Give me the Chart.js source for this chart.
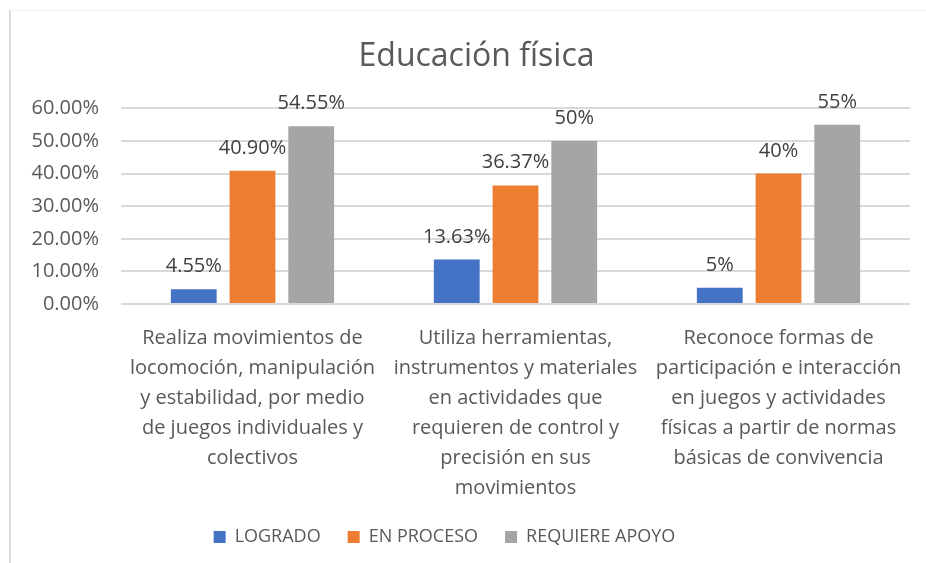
<!DOCTYPE html>
<html>
<head>
<meta charset="utf-8">
<script src="https://cdn.jsdelivr.net/npm/chart.js@4"></script>
<style>
    body { margin: 0; background: #fff; }
    #wrap {
        position: absolute; left: 9px; top: 10px;
        width: 915px; height: 553px;
        border-left: 2px solid #dcdcdc;
        border-top: 1px solid #f0f0f0;
    }
</style>
</head>
<body>
<div id="wrap"><canvas id="chart" width="915" height="553"></canvas></div>
<script>
// categorías (eje x, en varias líneas)
const categorias = [
    ['Realiza movimientos de', 'locomoción, manipulación', 'y estabilidad, por medio', 'de juegos individuales y', 'colectivos'],
    ['Utiliza herramientas,', 'instrumentos y materiales', 'en actividades que', 'requieren de control y', 'precisión en sus', 'movimientos'],
    ['Reconoce formas de', 'participación e interacción', 'en juegos y actividades', 'físicas a partir de normas', 'básicas de convivencia']
];

// valores de cada serie (%)
const logrado = [4.55, 13.63, 5];
const enProceso = [40.90, 36.37, 40];
const requiereApoyo = [54.55, 50, 55];

// etiquetas tal como aparecen sobre las barras
const etqLogrado = ['4.55%', '13.63%', '5%'];
const etqEnProceso = ['40.90%', '36.37%', '40%'];
const etqRequiere = ['54.55%', '50%', '55%'];

const FONT = '"Open Sans", sans-serif';

// dibuja los valores encima de cada barra
const etiquetasBarras = {
    id: 'etiquetasBarras',
    afterDatasetsDraw(chart) {
        const ctx = chart.ctx;
        ctx.save();
        ctx.font = '20px ' + FONT;
        ctx.fillStyle = '#404040';
        ctx.textAlign = 'center';
        ctx.textBaseline = 'alphabetic';
        chart.data.datasets.forEach((ds, i) => {
            chart.getDatasetMeta(i).data.forEach((bar, j) => {
                ctx.fillText(ds.etiquetas[j], bar.x, bar.y - 17);
            });
        });
        ctx.restore();
    }
};

// en el original el título va algo a la derecha y la leyenda a la izquierda
const moverBloques = {
    id: 'moverBloques',
    afterLayout(chart) {
        const lg = chart.legend;
        lg.left -= 16; lg.right -= 16;
        const t = chart.titleBlock;
        t.left += 16; t.right += 16;
    }
};

new Chart(document.getElementById('chart'), {
    type: 'bar',
    data: {
        labels: categorias,
        datasets: [
            { label: 'LOGRADO', data: logrado, etiquetas: etqLogrado, backgroundColor: '#4472C4' },
            { label: 'EN PROCESO', data: enProceso, etiquetas: etqEnProceso, backgroundColor: '#ED7D31' },
            { label: 'REQUIERE APOYO', data: requiereApoyo, etiquetas: etqRequiere, backgroundColor: '#A5A5A5' }
        ]
    },
    options: {
        responsive: false,
        animation: false,
        categoryPercentage: 0.67,
        barPercentage: 0.78,
        layout: { padding: { left: 0, right: 16, top: 0, bottom: 8 } },
        scales: {
            x: {
                grid: { display: false },
                border: { display: false },
                ticks: {
                    color: '#595959',
                    font: { family: FONT, size: 20, lineHeight: 1.5 },
                    padding: 11,
                    autoSkip: false,
                    maxRotation: 0
                },
                afterFit(scale) { scale.height = 197; }
            },
            y: {
                min: 0,
                max: 60,
                grid: { color: '#d9d9d9', lineWidth: 2, drawTicks: false },
                border: { display: false },
                ticks: {
                    stepSize: 10,
                    color: '#595959',
                    font: { family: FONT, size: 20 },
                    padding: 22,
                    callback: v => v.toFixed(2) + '%'
                },
                afterFit(scale) { scale.width = 110; }
            }
        },
        plugins: {
            title: {
                display: true,
                text: 'Educación física',
                color: '#595959',
                font: { family: FONT, size: 32, weight: 'normal' },
                padding: { top: 27, bottom: 32 }
            },
            legend: {
                position: 'bottom',
                labels: {
                    color: '#595959',
                    font: { family: FONT, size: 18 },
                    boxWidth: 12,
                    boxHeight: 12,
                    padding: 27
                }
            },
            tooltip: { enabled: false }
        }
    },
    plugins: [etiquetasBarras, moverBloques]
});
</script>
</body>
</html>
